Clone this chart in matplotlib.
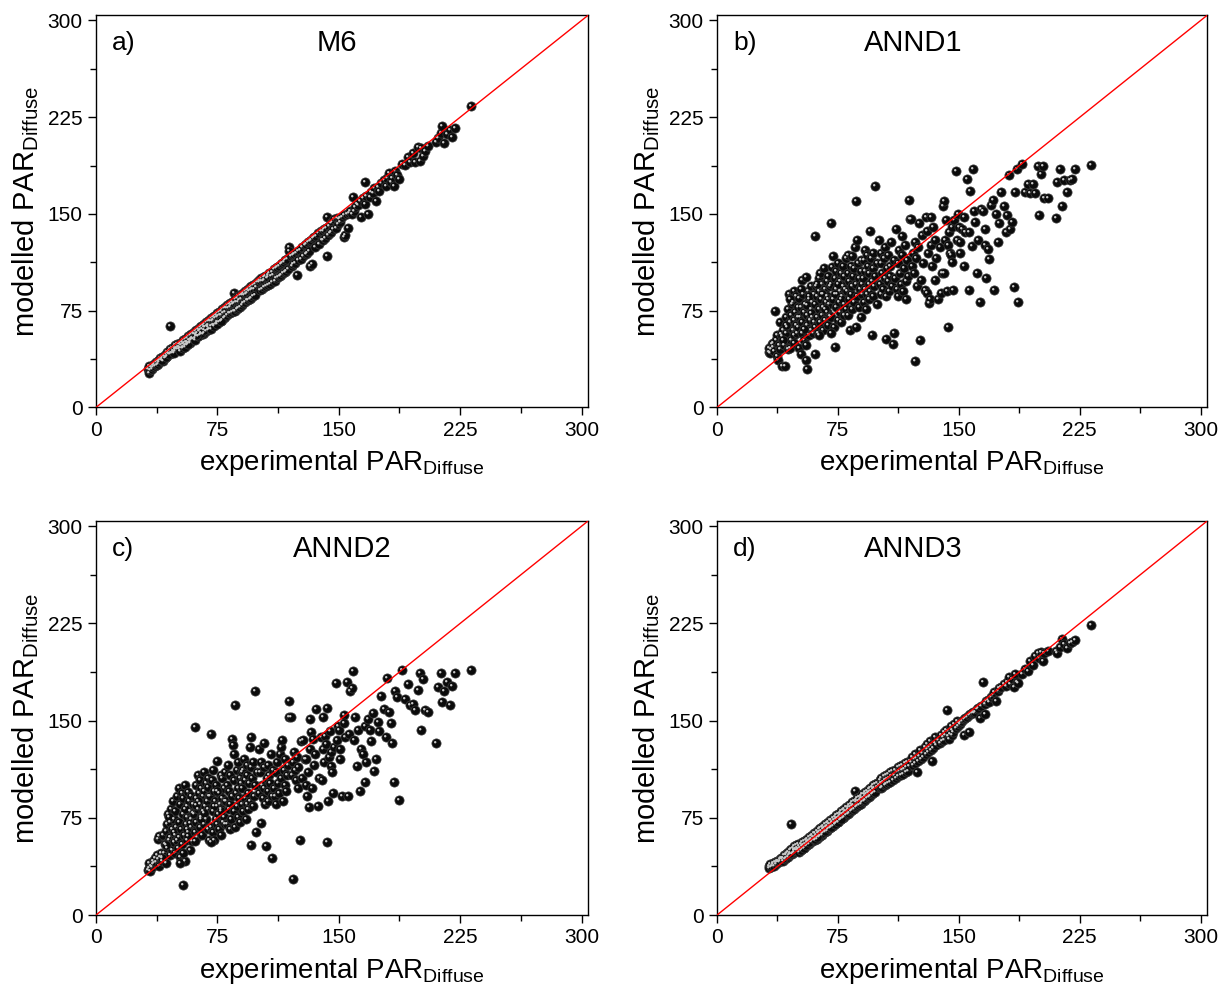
import matplotlib
matplotlib.use('Agg')
from matplotlib import pyplot as plt
from matplotlib.path import Path
from matplotlib.ticker import MultipleLocator

plt.rcParams['font.family'] = ['Liberation Sans', 'DejaVu Sans']

# experimental PAR_Diffuse (shared by all four panels)
x_exp = [32, 32.5, 33, 33.5, 34, 34.5, 35, 35.5, 36, 36.5, 37, 37.5, 38, 38.5, 39, 39, 39.5, 40,
         40.5, 41, 41.5, 42, 42.5, 43, 43.5, 44, 44, 44.5, 45, 45.5, 46, 46, 46.5, 47, 47, 47.5, 48, 48, 48.5, 49, 49, 49.5, 50, 50, 41, 43, 45, 48,
         50.5, 51, 51, 51.5, 52, 52, 52.5, 53, 53, 53.5, 54, 54, 54.5, 55, 55, 55.5, 56, 56, 56.5, 57, 57, 57.5, 58, 58, 58.5, 59, 59, 59.5, 60, 60, 52, 54, 56, 58, 55, 57,
         60.5, 61, 61, 61.5, 62, 62, 62.5, 63, 63, 63.5, 64, 64, 64.5, 65, 65, 65.5, 66, 66, 66.5, 67, 67, 67.5, 68, 68, 68.5, 69, 69, 69.5, 70, 70, 61, 63, 65, 67, 69, 62,
         70.5, 71, 71, 71.5, 72, 72, 72.5, 73, 73, 73.5, 74, 74, 74.5, 75, 75, 75.5, 76, 76, 76.5, 77, 77, 77.5, 78, 78, 78.5, 79, 79, 79.5, 80, 80, 71, 73, 75, 77,
         80.5, 81, 81, 81.5, 82, 82, 82.5, 83, 83, 83.5, 84, 84, 84.5, 85, 85, 85.5, 86, 86, 86.5, 87, 87, 87.5, 88, 88, 88.5, 89, 89, 89.5, 90, 90,
         90.5, 91, 91, 91.5, 92, 92, 92.5, 93, 93, 93.5, 94, 94, 94.5, 95, 95, 95.5, 96, 96, 96.5, 97, 97, 97.5, 98, 98, 99, 99.5,
         100.5, 101, 101.5, 102, 102, 102.5, 103, 103.5, 104, 104, 104.5, 105, 105.5, 106, 106, 106.5, 107, 107.5, 108, 108.5, 109, 109.5,
         110, 110.5, 111, 111.5, 112, 112.5, 113, 113.5, 114, 114.5, 115, 115.5, 116, 116.5, 117, 117.5, 118, 118.5, 119, 119.5,
         120.5, 121, 121.5, 122, 122.5, 123, 123.5, 124, 124.5, 125, 126, 126.5, 127, 128, 129, 129.5,
         130, 130.5, 131, 131.5, 132, 132.5, 133, 133.5, 134, 135, 135.5, 136, 137, 138, 139, 139.5,
         140, 140.5, 141, 141.5, 142, 142.5, 143, 143.5, 144, 144.5, 145, 145.5, 146, 146.5, 147, 148, 149, 149.5,
         150, 150.5, 151, 152, 153, 153.5, 154, 155, 156, 156.5, 157, 158, 159, 159.5,
         160, 161, 162, 163, 164, 165, 166, 166.5, 167, 168, 169, 170,
         171, 172, 173, 174, 175, 176, 178, 179,
         180, 181, 182, 183, 184, 185, 186, 187, 189,
         191, 193, 194, 196, 197, 199,
         200, 201, 202, 203, 205,
         210, 211, 213, 214, 215, 217, 219,
         220, 222, 232]

# modelled PAR_Diffuse, M6
y_m6 = [30, 27, 32, 29, 31, 30, 33, 31, 34, 32, 35, 33, 36, 34, 37, 35, 38, 37,
        38, 39, 36, 40, 38, 41, 39, 43, 40, 42, 44, 41, 45, 63, 42, 46, 42, 44, 47, 43, 45, 48, 44, 46, 49, 45, 37, 39, 41, 42,
        47, 49, 45, 47, 50, 46, 48, 51, 46, 49, 52, 47, 50, 53, 48, 51, 54, 49, 51, 55, 50, 52, 56, 51, 53, 57, 52, 54, 58, 53, 44, 46, 48, 50, 47, 49,
        57, 59, 54, 57, 60, 55, 58, 61, 55, 59, 62, 56, 60, 63, 57, 61, 64, 57, 62, 65, 58, 62, 66, 59, 63, 67, 60, 64, 68, 61, 52, 55, 58, 60, 62, 56,
        67, 69, 63, 67, 70, 64, 68, 71, 64, 69, 72, 65, 70, 73, 66, 71, 74, 66, 72, 75, 67, 72, 76, 68, 73, 77, 69, 74, 78, 70, 61, 63, 65, 67,
        77, 79, 72, 77, 80, 73, 78, 81, 73, 79, 82, 74, 80, 89, 75, 81, 84, 75, 82, 85, 76, 82, 86, 77, 83, 87, 78, 84, 88, 79,
        87, 89, 81, 87, 90, 82, 88, 91, 83, 89, 92, 83, 90, 93, 84, 91, 94, 85, 92, 95, 86, 92, 96, 87, 93, 97,
        97, 99, 91, 98, 100, 92, 98, 101, 93, 99, 102, 94, 100, 103, 95, 101, 104, 96, 102, 105, 97, 103,
        107, 98, 108, 100, 109, 101, 110, 102, 111, 103, 112, 104, 113, 105, 114, 106, 115, 107, 124, 121,
        117, 110, 118, 111, 119, 112, 120, 103, 121, 114, 122, 115, 124, 117, 126, 119,
        127, 120, 128, 121, 129, 110, 130, 111, 131, 132, 124, 133, 135, 127, 137, 130,
        137, 130, 138, 131, 139, 148, 117, 134, 141, 135, 143, 136, 144, 138, 146, 139, 147, 142,
        146, 144, 147, 148, 149, 132, 134, 150, 139, 151, 152, 150, 163, 152,
        155, 158, 157, 160, 148, 162, 175, 158, 164, 150, 163, 167,
        166, 170, 160, 171, 168, 174, 176, 172,
        178, 182, 175, 178, 172, 183, 180, 177, 189,
        188, 194, 190, 197, 190, 202,
        191, 201, 195, 199, 203,
        206, 209, 213, 218, 205, 212, 215,
        210, 217, 234]

# modelled PAR_Diffuse, ANND1
y_annd1 = [43, 46, 42, 45, 49, 47, 50, 44, 75, 52, 40, 56, 37, 48, 45, 66, 57, 32,
           55, 60, 48, 32, 70, 58, 62, 76, 45, 88, 46, 66, 52, 72, 80, 82, 60, 90, 56, 68, 74, 64, 86, 58, 70, 78, 52, 64, 84, 50,
           62, 85, 46, 70, 41, 78, 58, 99, 66, 88, 74, 52, 80, 37, 101, 64, 30, 72, 90, 56, 84, 68, 76, 60, 94, 70, 82, 58, 88, 66, 92, 61, 79, 73, 48, 86,
           80, 133, 62, 94, 70, 86, 58, 100, 76, 90, 66, 104, 84, 72, 96, 60, 88, 78, 108, 68, 92, 82, 98, 74, 86, 64, 102, 80, 94, 71, 41, 56, 88, 76, 84, 96,
           96, 143, 70, 109, 84, 117, 62, 100, 47, 92, 78, 106, 88, 68, 112, 82, 98, 74, 90, 104, 66, 86, 110, 94, 72, 102, 80, 92, 116, 76, 58, 88, 96, 84,
           90, 104, 72, 118, 84, 98, 60, 110, 88, 76, 117, 94, 102, 82, 108, 124, 160, 62, 96, 130, 86, 112, 78, 100, 92, 114, 70, 106, 96, 88,
           100, 114, 82, 122, 92, 106, 76, 118, 88, 110, 96, 84, 104, 137, 90, 116, 56, 98, 108, 86, 120, 94, 172, 102, 80, 112,
           130, 96, 112, 88, 120, 104, 92, 116, 100, 124, 86, 53, 108, 98, 118, 90, 110, 102, 128, 94, 49, 114,
           58, 100, 138, 92, 112, 86, 122, 104, 96, 118, 133, 90, 108, 126, 98, 84, 114, 102, 161, 146,
           146, 110, 120, 104, 128, 36, 116, 94, 124, 143, 52, 99, 134, 112, 91, 148,
           89, 137, 120, 81, 84, 126, 148, 110, 140, 99, 130, 116, 84, 124, 89, 104,
           156, 104, 160, 130, 145, 90, 62, 126, 136, 120, 118, 113, 140, 91, 145, 183, 130, 150,
           140, 128, 120, 138, 148, 110, 136, 177, 136, 91, 168, 125, 185, 152,
           144, 104, 130, 82, 154, 152, 138, 126, 100, 123, 115, 157,
           161, 91, 150, 128, 143, 167, 156, 136,
           149, 180, 138, 144, 93, 167, 185, 82, 189,
           167, 173, 166, 173, 166, 187,
           149, 181, 187, 162, 162,
           147, 175, 185, 156, 176, 167, 176,
           177, 185, 188]

# modelled PAR_Diffuse, ANND2
y_annd2 = [35, 36, 40, 34, 38, 37, 42, 39, 40, 44, 41, 46, 59, 43, 61, 38, 45, 48,
           45, 42, 62, 48, 55, 40, 65, 52, 70, 78, 58, 46, 72, 60, 82, 50, 66, 88, 56, 74, 62, 80, 48, 68, 92, 58, 44, 54, 76, 64,
           52, 98, 60, 72, 45, 86, 66, 94, 55, 78, 23, 90, 62, 42, 100, 70, 84, 58, 76, 95, 64, 88, 50, 80, 68, 92, 74, 57, 86, 79, 40, 48, 66, 71, 82, 61,
           78, 145, 64, 100, 72, 90, 60, 108, 82, 94, 68, 104, 86, 76, 98, 62, 92, 80, 110, 70, 96, 84, 102, 74, 88, 66, 106, 82, 92, 58, 57, 88, 74, 79, 99, 85,
           92, 140, 68, 104, 80, 112, 64, 96, 58, 88, 74, 100, 84, 70, 119, 78, 94, 66, 86, 108, 62, 82, 106, 90, 72, 98, 76, 88, 110, 70, 56, 84, 96, 80,
           88, 100, 70, 116, 82, 96, 66, 108, 86, 74, 136, 92, 131, 80, 124, 104, 162, 68, 94, 112, 84, 118, 76, 98, 90, 106, 72, 102, 110, 86,
           98, 112, 80, 120, 90, 104, 74, 116, 86, 108, 94, 82, 102, 130, 88, 114, 54, 137, 106, 84, 118, 92, 173, 100, 64, 110,
           128, 94, 110, 71, 118, 100, 90, 114, 133, 98, 86, 53, 106, 96, 116, 88, 108, 102, 124, 92, 44, 112,
           98, 92, 110, 86, 118, 102, 94, 124, 130, 106, 135, 88, 112, 100, 120, 96, 108, 116, 165, 153,
           153, 108, 118, 28, 126, 112, 104, 122, 98, 114, 58, 134, 106, 135, 120, 100,
           120, 92, 110, 83, 128, 151, 141, 98, 136, 116, 124, 159, 84, 106, 137, 104,
           153, 128, 118, 138, 132, 160, 56, 88, 122, 142, 126, 115, 110, 94, 130, 179, 135, 146,
           143, 128, 120, 92, 154, 148, 137, 180, 92, 140, 173, 175, 188, 135,
           153, 115, 143, 96, 128, 124, 103, 146, 118, 151, 143, 134,
           156, 111, 120, 149, 142, 169, 159, 137,
           183, 157, 148, 133, 103, 173, 168, 89, 189,
           167, 178, 162, 163, 158, 174,
           187, 143, 182, 158, 157,
           133, 176, 187, 164, 173, 180, 162,
           177, 187, 189]

# modelled PAR_Diffuse, ANND3
y_annd3 = [38, 36, 39, 37, 38, 39, 40, 38, 41, 39, 41, 42, 42, 41, 43, 42, 44, 43,
           44, 42, 46, 43, 47, 44, 48, 45, 49, 46, 50, 47, 51, 70, 47, 52, 48, 50, 53, 49, 51, 54, 50, 52, 55, 51, 44, 46, 48, 50,
           50, 53, 49, 52, 55, 50, 53, 56, 51, 54, 57, 52, 55, 58, 53, 56, 59, 54, 57, 60, 55, 58, 61, 56, 59, 62, 57, 60, 63, 58, 50, 52, 55, 57, 54, 56,
           60, 63, 58, 62, 65, 59, 63, 66, 60, 64, 67, 61, 65, 68, 62, 66, 69, 63, 67, 70, 64, 68, 71, 65, 69, 72, 66, 70, 73, 67, 59, 61, 63, 65, 67, 60,
           70, 73, 68, 72, 75, 69, 73, 76, 70, 74, 77, 71, 75, 78, 72, 76, 79, 73, 77, 80, 74, 78, 81, 75, 79, 82, 76, 80, 83, 77, 68, 70, 72, 74,
           80, 83, 78, 82, 85, 79, 83, 86, 80, 84, 87, 81, 85, 88, 82, 96, 89, 83, 87, 90, 84, 88, 91, 85, 89, 92, 86, 90, 93, 87,
           90, 93, 88, 92, 95, 89, 93, 96, 90, 94, 97, 91, 95, 98, 92, 96, 99, 93, 97, 100, 94, 98, 101, 95, 99, 102,
           100, 104, 98, 102, 106, 99, 103, 107, 100, 104, 108, 101, 105, 109, 102, 106, 110, 103, 107, 111, 104, 108,
           108, 112, 106, 110, 114, 107, 111, 115, 108, 112, 116, 109, 113, 117, 110, 114, 118, 111, 115, 119,
           118, 122, 116, 120, 124, 117, 121, 110, 119, 123, 127, 120, 125, 122, 130, 124,
           128, 132, 126, 130, 134, 127, 131, 119, 129, 133, 137, 131, 135, 133, 139, 134,
           137, 141, 135, 139, 143, 158, 138, 142, 136, 140, 146, 139, 143, 141, 147, 144, 150, 146,
           148, 147, 149, 150, 151, 139, 152, 153, 154, 141, 155, 156, 157, 156,
           157, 159, 160, 152, 161, 180, 163, 155, 165, 166, 164, 168,
           170, 172, 165, 173, 175, 176, 178, 177,
           180, 184, 178, 182, 176, 186, 180, 179, 186,
           190, 188, 196, 193, 200, 202,
           198, 203, 196, 202, 204,
           204, 202, 207, 213, 209, 206, 210,
           211, 212, 224]

panel_letters = ['a)', 'b)', 'c)', 'd)']
panel_names = ['M6', 'ANND1', 'ANND2', 'ANND3']
panel_values = [y_m6, y_annd1, y_annd2, y_annd3]
ticks = [0, 75, 150, 225, 300]

# axes boxes in figure fractions (left, bottom, width, height)
boxes = [[0.0785, 0.591, 0.4023, 0.3936],
         [0.5863, 0.591, 0.4007, 0.3936],
         [0.0785, 0.0813, 0.4023, 0.3956],
         [0.5863, 0.0813, 0.4007, 0.3956]]
name_xpos = [0.49, 0.40, 0.50, 0.40]

# small light spot up-left of each ball to give the sphere look
shine = Path.circle(center=(-0.14, 0.14), radius=0.13)
ball_size = 44

fig = plt.figure(figsize=(12.23, 9.96), dpi=100)

for i in range(4):
    ax = fig.add_axes(boxes[i])
    ax.scatter(x_exp, panel_values[i], s=ball_size, c='#0b0b0b', edgecolors='#3a3a3a',
               linewidths=0.5, zorder=3)
    ax.scatter(x_exp, panel_values[i], s=ball_size * 0.54 ** 2, marker=shine, c='#c8c8c8',
               linewidths=0, zorder=4)
    ax.axline((0, 0), slope=1, color='red', linewidth=1, zorder=5)

    ax.set_xlim(0, 304)
    ax.set_ylim(0, 304)
    ax.set_xticks(ticks)
    ax.set_yticks(ticks)
    ax.xaxis.set_minor_locator(MultipleLocator(37.5))
    ax.yaxis.set_minor_locator(MultipleLocator(37.5))
    ax.tick_params(which='both', direction='out', top=False, right=False, width=1, labelsize=15)
    ax.tick_params(which='major', length=6)
    ax.tick_params(which='minor', length=4)
    for sp in ax.spines.values():
        sp.set_linewidth(1)

    ax.set_xlabel('experimental PAR$_\\mathregular{Diffuse}$', fontsize=20, labelpad=6)
    ax.set_ylabel('modelled PAR$_\\mathregular{Diffuse}$', fontsize=21, labelpad=5)

    ax.text(0.033, 0.93, panel_letters[i], transform=ax.transAxes, fontsize=19,
            ha='left', va='center')
    ax.text(name_xpos[i], 0.93, panel_names[i], transform=ax.transAxes, fontsize=21,
            ha='center', va='center')

plt.savefig('out.png', dpi=100)
